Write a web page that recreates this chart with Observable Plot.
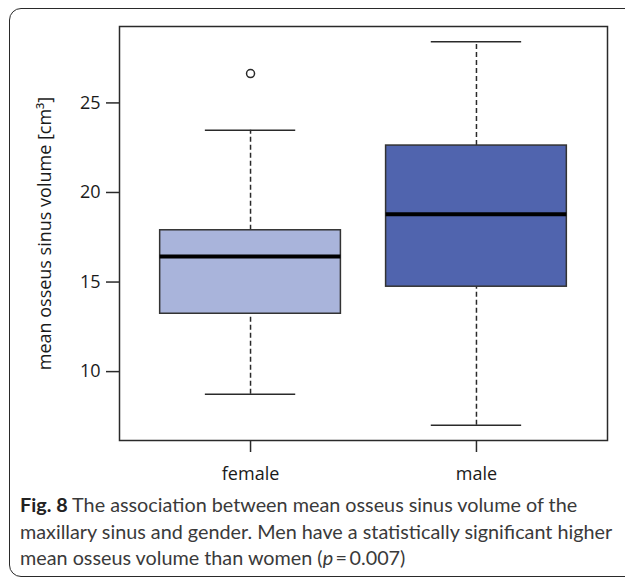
<!DOCTYPE html>
<html>
<head>
<meta charset="utf-8">
<script src="https://cdn.jsdelivr.net/npm/d3@7"></script>
<script src="https://cdn.jsdelivr.net/npm/@observablehq/plot@0.6"></script>
<style>
  html, body { margin: 0; padding: 0; width: 625px; height: 580px; overflow: hidden; background: #fff; }
  #frame { position: absolute; left: 9px; top: 8px; width: 660px; height: 569px; border: 1.5px solid #2a2a2a; border-radius: 12px; box-sizing: border-box; }
  #chart { position: absolute; left: 0; top: 0; }
  #caption { position: absolute; left: 20px; top: 491px; width: 605px; font-family: Lato, sans-serif; font-size: 19.8px; line-height: 26.5px; color: #3a3a3a; }
  #caption b { color: #222; }
</style>
</head>
<body>
<div id="frame"></div>
<div id="chart"></div>
<div id="caption"><b>Fig. 8</b> The association between mean osseus sinus volume of the maxillary sinus and gender. Men have a statistically significant higher mean osseus volume than women (<i>p</i>&#8201;=&#8201;0.007)</div>
<script>
const categories = ["female", "male"];
const whiskerLow  = [8.74, 7.01];
const q1          = [13.23, 14.74];
const median      = [16.43, 18.78];
const q3          = [17.89, 22.62];
const whiskerHigh = [23.48, 28.41];
const outlierGroup = ["female"];
const outlierValue = [26.64];
const fills = ["#a9b4db", "#5064ae"];
const yLabel = "mean osseus sinus volume [cm\u00b3]";
const yTicks = [10, 15, 20, 25];

const boxes = categories.map((c, i) => ({
  cat: c, pos: i + 1, lo: whiskerLow[i], q1: q1[i], med: median[i], q3: q3[i], hi: whiskerHigh[i], fill: fills[i]
}));
const outliers = outlierGroup.map((c, i) => ({pos: categories.indexOf(c) + 1, v: outlierValue[i]}));

const allVals = [...whiskerLow, ...whiskerHigh, ...outlierValue];
const vmin = d3.min(allVals), vmax = d3.max(allVals);
const vpad = 0.04 * (vmax - vmin);
const n = categories.length;
const xpad = 0.04 * n;

const ink = "#2a2a2a";
const font = "'Open Sans', sans-serif";

const chart = Plot.plot({
  width: 625,
  height: 490,
  marginLeft: 119,
  marginRight: 18,
  marginTop: 26,
  marginBottom: 50,
  style: {fontFamily: font, fontSize: "18px", color: "#1a1a1a", background: "transparent"},
  x: {domain: [0.5 - xpad, n + 0.5 + xpad], label: null},
  y: {domain: [vmin - vpad, vmax + vpad], label: null},
  marks: [
    Plot.frame({stroke: ink, strokeWidth: 1.5}),
    Plot.axisX({ticks: boxes.map(d => d.pos), tickFormat: p => categories[p - 1], tickSize: 12, tickPadding: 15, stroke: ink, strokeWidth: 1.5, fontSize: 18, label: null}),
    Plot.axisY({ticks: yTicks, tickSize: 13, tickPadding: 6, stroke: ink, strokeWidth: 1.5, fontSize: 18, label: null}),
    Plot.text([yLabel], {frameAnchor: "left", textAnchor: "middle", rotate: -90, dx: -74, fontSize: 18, fill: "#1a1a1a"}),
    // whiskers (dashed)
    Plot.ruleX(boxes, {x: "pos", y1: "q3", y2: "hi", stroke: ink, strokeWidth: 1.5, strokeDasharray: "5,3"}),
    Plot.ruleX(boxes, {x: "pos", y1: "lo", y2: "q1", stroke: ink, strokeWidth: 1.5, strokeDasharray: "5,3"}),
    // caps
    Plot.ruleY(boxes, {y: "hi", x1: d => d.pos - 0.2, x2: d => d.pos + 0.2, stroke: ink, strokeWidth: 1.5}),
    Plot.ruleY(boxes, {y: "lo", x1: d => d.pos - 0.2, x2: d => d.pos + 0.2, stroke: ink, strokeWidth: 1.5}),
    // boxes
    Plot.rect(boxes, {x1: d => d.pos - 0.4, x2: d => d.pos + 0.4, y1: "q1", y2: "q3", fill: "fill", stroke: "#333", strokeWidth: 1.5}),
    // medians
    Plot.ruleY(boxes, {y: "med", x1: d => d.pos - 0.4, x2: d => d.pos + 0.4, stroke: "#000", strokeWidth: 4}),
    // outliers
    Plot.dot(outliers, {x: "pos", y: "v", r: 4, stroke: ink, strokeWidth: 1.5, fill: "none"})
  ]
});
document.getElementById("chart").appendChild(chart);
</script>
</body>
</html>
